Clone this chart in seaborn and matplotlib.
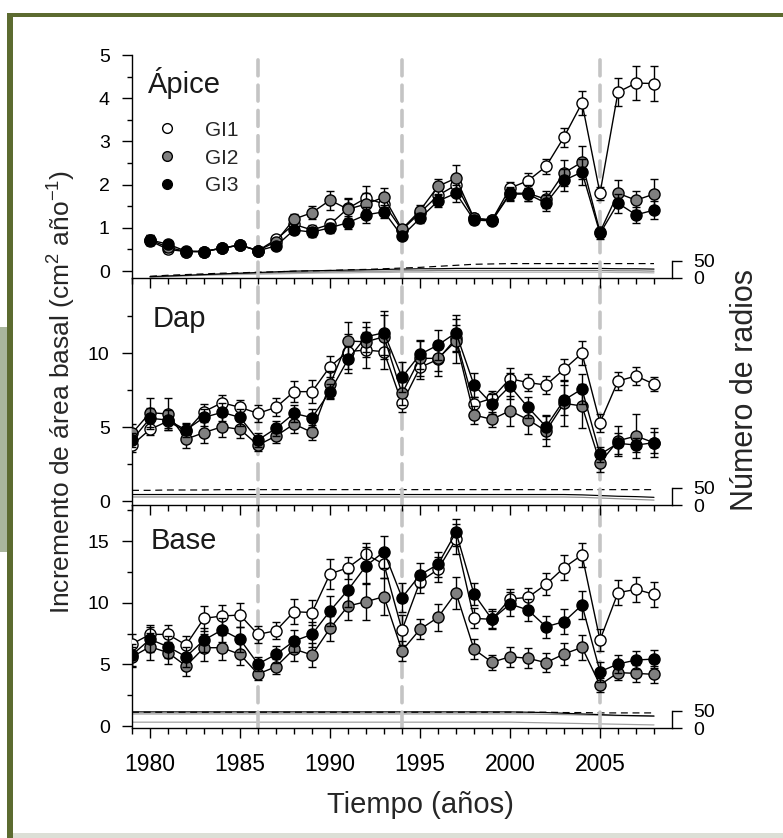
import numpy as np
import pandas as pd
import matplotlib
matplotlib.use('Agg')
import matplotlib.pyplot as plt
import seaborn as sns
from matplotlib.lines import Line2D
from matplotlib.patches import Rectangle
from matplotlib.ticker import FixedLocator

sns.set_theme(style='ticks')
plt.rcParams['font.family'] = ['Liberation Sans', 'DejaVu Sans']
plt.rcParams['mathtext.fontset'] = 'custom'
plt.rcParams['mathtext.rm'] = 'Liberation Sans'
plt.rcParams['mathtext.it'] = 'Liberation Sans:italic'
plt.rcParams['mathtext.default'] = 'regular'

# ---------------- data ----------------
groups = ['GI1', 'GI2', 'GI3']
years_apice = list(range(1980, 2009))
years_long = list(range(1979, 2009))

apice_gi1 = [0.70, 0.50, 0.45, 0.45, 0.53, 0.60, 0.47, 0.73, 1.08, 0.95, 1.08, 1.45, 1.69, 1.55, 0.95,
             1.35, 1.75, 1.99, 1.22, 1.18, 1.92, 2.09, 2.42, 3.10, 3.89, 1.80, 4.14, 4.35, 4.34]
apice_gi2 = [0.72, 0.55, 0.45, 0.45, 0.53, 0.60, 0.47, 0.68, 1.20, 1.35, 1.64, 1.43, 1.55, 1.71, 0.97,
             1.40, 1.96, 2.15, 1.22, 1.18, 1.80, 1.80, 1.66, 2.27, 2.52, 0.90, 1.80, 1.64, 1.78]
apice_gi3 = [0.72, 0.62, 0.46, 0.45, 0.53, 0.60, 0.47, 0.58, 0.95, 0.90, 1.00, 1.12, 1.30, 1.37, 0.81,
             1.22, 1.62, 1.80, 1.18, 1.16, 1.78, 1.78, 1.57, 2.10, 2.29, 0.87, 1.57, 1.30, 1.41]
apice_err1 = [0.10, 0.08, 0.05, 0.05, 0.05, 0.05, 0.05, 0.07, 0.10, 0.12, 0.12, 0.22, 0.28, 0.22, 0.10,
              0.12, 0.18, 0.20, 0.10, 0.08, 0.15, 0.18, 0.18, 0.22, 0.27, 0.15, 0.32, 0.40, 0.40]
apice_err2 = [0.12, 0.10, 0.06, 0.05, 0.06, 0.05, 0.05, 0.06, 0.12, 0.15, 0.22, 0.25, 0.25, 0.22, 0.10,
              0.12, 0.18, 0.30, 0.10, 0.08, 0.15, 0.18, 0.20, 0.30, 0.38, 0.10, 0.30, 0.22, 0.35]
apice_err3 = [0.12, 0.08, 0.06, 0.05, 0.06, 0.05, 0.05, 0.06, 0.10, 0.12, 0.12, 0.15, 0.18, 0.15, 0.08,
              0.12, 0.15, 0.20, 0.10, 0.08, 0.15, 0.15, 0.18, 0.25, 0.30, 0.12, 0.22, 0.18, 0.20]

dap_gi1 = [3.78, 4.84, 5.40, 4.70, 6.04, 6.64, 6.33, 5.92, 6.33, 7.39, 7.39, 9.08, 10.10, 10.20, 10.09,
           6.60, 9.03, 9.57, 10.99, 6.55, 6.94, 8.27, 8.00, 7.84, 8.90, 9.98, 5.29, 8.11, 8.45, 7.90]
dap_gi2 = [4.57, 5.97, 5.88, 4.18, 4.62, 5.02, 4.84, 3.78, 4.39, 5.20, 4.64, 7.88, 10.81, 10.76, 11.10,
           7.27, 9.64, 9.64, 10.81, 5.81, 5.52, 6.10, 5.50, 4.73, 6.60, 6.42, 2.59, 4.07, 4.39, 3.94]
dap_gi3 = [4.12, 5.59, 5.47, 4.80, 5.65, 5.99, 5.65, 4.12, 4.91, 5.92, 5.63, 7.39, 9.57, 11.10, 11.37,
           8.36, 9.91, 10.54, 11.37, 7.84, 6.55, 7.77, 6.33, 5.02, 6.82, 7.57, 3.15, 3.90, 3.78, 3.94]
dap_err1 = [0.5, 0.4, 0.5, 0.5, 0.5, 0.5, 0.5, 0.6, 0.6, 0.7, 0.8, 0.7, 1.2, 1.2, 1.2,
            0.6, 0.8, 0.8, 0.9, 0.5, 0.5, 0.7, 0.6, 0.6, 0.7, 0.8, 0.6, 0.6, 0.6, 0.5]
dap_err2 = [0.6, 1.0, 1.1, 0.6, 0.7, 0.7, 0.6, 0.4, 0.5, 0.6, 0.5, 0.9, 1.3, 1.0, 1.5,
            0.8, 1.2, 1.2, 1.5, 0.6, 0.5, 1.0, 1.0, 1.0, 1.5, 1.5, 0.6, 1.0, 1.5, 1.0]
dap_err3 = [0.5, 0.7, 0.7, 0.5, 0.6, 0.6, 0.6, 0.5, 0.5, 0.6, 0.6, 0.5, 0.9, 1.0, 1.5,
            1.0, 1.0, 1.0, 1.2, 0.8, 0.7, 0.9, 0.7, 0.8, 1.0, 1.0, 0.5, 0.7, 0.5, 0.7]

base_gi1 = [6.65, 7.43, 7.43, 6.57, 8.73, 8.92, 9.00, 7.43, 7.73, 9.27, 9.20, 12.33, 12.84, 13.92, 13.11,
            7.79, 11.70, 12.70, 15.14, 8.73, 8.65, 10.30, 10.43, 11.49, 12.84, 13.87, 6.97, 10.81, 11.08, 10.68]
base_gi2 = [5.60, 6.43, 5.95, 4.87, 6.35, 6.35, 5.81, 4.22, 4.81, 6.24, 5.76, 7.92, 9.73, 10.08, 10.49,
            6.11, 7.84, 8.81, 10.81, 6.22, 5.17, 5.62, 5.49, 5.14, 5.84, 6.38, 3.33, 4.33, 4.27, 4.19]
base_gi3 = [5.76, 7.03, 6.43, 5.62, 6.97, 7.79, 7.03, 5.03, 5.81, 6.89, 7.43, 9.33, 11.03, 12.98, 14.14,
            10.41, 12.25, 13.11, 15.71, 10.70, 8.65, 9.89, 9.41, 8.05, 8.46, 9.81, 4.41, 5.03, 5.35, 5.43]
base_err1 = [0.8, 0.8, 0.8, 0.7, 1.0, 0.9, 1.0, 0.7, 0.7, 1.0, 1.0, 1.2, 0.9, 0.9, 1.1,
             1.2, 0.9, 1.0, 1.2, 0.8, 0.8, 0.8, 0.8, 0.9, 1.0, 1.0, 0.9, 1.0, 1.0, 1.0]
base_err2 = [0.8, 1.1, 0.9, 0.8, 1.1, 1.0, 0.9, 0.5, 0.6, 1.0, 1.0, 1.0, 1.1, 1.5, 1.5,
             0.8, 0.8, 1.1, 1.3, 0.8, 0.6, 0.8, 0.8, 0.8, 0.9, 1.0, 0.6, 0.6, 0.7, 0.7]
base_err3 = [0.9, 1.0, 0.9, 0.8, 1.0, 1.0, 1.0, 0.6, 0.7, 0.9, 1.0, 1.2, 1.4, 1.5, 1.3,
             1.2, 1.0, 1.0, 1.1, 0.9, 0.7, 1.0, 0.9, 0.9, 1.0, 1.1, 0.8, 0.7, 0.7, 0.7]

# number of radii (secondary axis)
apice_r_dash = [5, 8, 10, 12, 14, 15, 17, 18, 20, 21, 22, 24, 25, 27, 29, 31, 34, 37, 40, 41,
                42, 42, 42, 42, 42, 42, 42, 42, 42]
apice_r_black = [4, 6, 8, 10, 12, 14, 16, 18, 20, 21, 22, 23, 24, 25, 26, 27, 27, 28, 28, 28,
                 28, 28, 28, 28, 28, 28, 27, 27, 26]
apice_r_grey = [3, 5, 7, 9, 11, 13, 14, 15, 16, 17, 18, 19, 20, 20, 21, 21, 22, 22, 22, 22,
                22, 22, 22, 22, 22, 22, 21, 21, 20]
apice_r_light = [2, 4, 6, 8, 9, 10, 11, 12, 13, 14, 15, 15, 16, 16, 17, 17, 17, 17, 17, 17,
                 17, 17, 17, 17, 17, 17, 16, 16, 15]

dap_r_dash = [42, 42, 43, 43, 43, 44, 44, 44, 44, 44, 44, 44, 44, 44, 44, 44, 44, 44, 44, 44,
              44, 44, 44, 44, 44, 44, 44, 44, 44, 44]
dap_r_black = [30, 30, 30, 30, 30, 30, 30, 30, 30, 30, 30, 30, 30, 30, 30, 30, 30, 30, 30, 30,
               30, 30, 30, 30, 30, 29, 27, 25, 24, 22]
dap_r_grey = [23, 23, 23, 23, 23, 23, 23, 23, 23, 23, 23, 23, 23, 23, 23, 23, 23, 23, 23, 23,
              23, 23, 23, 23, 23, 22, 20, 18, 16, 14]

base_r_dash = [46, 46, 46, 46, 46, 46, 46, 46, 46, 46, 46, 46, 46, 46, 46, 46, 46, 46, 46, 46,
               46, 46, 46, 46, 45, 45, 44, 44, 44, 44]
base_r_black = [47, 47, 47, 47, 47, 47, 47, 47, 47, 47, 47, 47, 47, 47, 47, 47, 47, 47, 47, 47,
                47, 47, 46, 45, 43, 41, 39, 37, 36, 35]
base_r_grey = [41, 41, 41, 41, 41, 41, 41, 41, 41, 41, 41, 41, 41, 41, 41, 41, 41, 41, 41, 41,
               41, 41, 41, 40, 39, 38, 37, 36, 35, 34]
base_r_light = [17, 17, 17, 17, 17, 17, 17, 17, 17, 17, 17, 17, 17, 17, 17, 17, 17, 17, 17, 17,
                17, 17, 16, 15, 14, 13, 12, 11, 10, 9]

event_years = [1986, 1994, 2005]
x_major = [1980, 1985, 1990, 1995, 2000, 2005]
x_minor = [y for y in range(1979, 2009) if y not in x_major]

panel_names = ['Ápice', 'Dap', 'Base']

# ---------------- figure ----------------
W, H = 783, 838
fig = plt.figure(figsize=(W / 100, H / 100), dpi=100)
fig.patch.set_facecolor('white')

def px2fig(x0, y0, w, h):
    return [x0 / W, 1 - (y0 + h) / H, w / W, h / H]

# frame decoration
green = '#5c6b30'
fig.patches.append(Rectangle((7 / W, 0), 6.3 / W, 1 - 12.7 / H, transform=fig.transFigure,
                             facecolor=green, edgecolor='none', zorder=0))
fig.patches.append(Rectangle((7 / W, 1 - 17.5 / H), 1, 4.8 / H, transform=fig.transFigure,
                             facecolor=green, edgecolor='none', zorder=0))
fig.patches.append(Rectangle((0, 1 - 552 / H), 7 / W, 225 / H, transform=fig.transFigure,
                             facecolor='#a9b69c', edgecolor='none', zorder=0))
fig.patches.append(Rectangle((13.3 / W, 0), 1, 5 / H, transform=fig.transFigure,
                             facecolor='#dcdfd6', edgecolor='none', zorder=0))

panels = [
    dict(top=55, bot=278, ylim=(-0.162, 5.0), major=[0, 1, 2, 3, 4, 5],
         minor=[0.5, 1.5, 2.5, 3.5, 4.5], years=years_apice,
         series=[apice_gi1, apice_gi2, apice_gi3], errs=[apice_err1, apice_err2, apice_err3],
         radii=[(apice_r_light, '#b0b0b0', '-'), (apice_r_grey, '#808080', '-'),
                (apice_r_black, 'black', '-'), (apice_r_dash, 'black', '--')],
         title_xy=(0.03, 0.83)),
    dict(top=278, bot=505, ylim=(-0.27, 15.07), major=[0, 5, 10], minor=[2.5, 7.5, 12.5],
         years=years_long, series=[dap_gi1, dap_gi2, dap_gi3], errs=[dap_err1, dap_err2, dap_err3],
         radii=[(dap_r_grey, '#909090', '-'), (dap_r_black, 'black', '-'),
                (dap_r_dash, 'black', '--')],
         title_xy=(0.039, 0.784)),
    dict(top=505, bot=728, ylim=(-0.16, 17.92), major=[0, 5, 10, 15],
         minor=[2.5, 7.5, 12.5, 17.5], years=years_long,
         series=[base_gi1, base_gi2, base_gi3], errs=[base_err1, base_err2, base_err3],
         radii=[(base_r_light, '#a0a0a0', '-'), (base_r_grey, '#909090', '-'),
                (base_r_dash, 'black', '--'), (base_r_black, 'black', '-')],
         title_xy=(0.035, 0.803)),
]

face = {'GI1': 'white', 'GI2': '#808080', 'GI3': 'black'}
PT = 0.72  # points per pixel

for i, p in enumerate(panels):
    ax = fig.add_axes(px2fig(132, p['top'], 540, p['bot'] - p['top']))
    ax2 = ax.twinx()
    ax.set_zorder(2)
    ax2.set_zorder(1)
    ax.patch.set_visible(False)
    ax2.patch.set_visible(False)

    # secondary axis: number of radii + event lines
    for vals, col, ls in p['radii']:
        dfr = pd.DataFrame({'year': p['years'], 'n': vals})
        kw = dict(linestyle=(0, (5.8, 3.9))) if ls == '--' else dict(linestyle='-')
        sns.lineplot(data=dfr, x='year', y='n', ax=ax2, color=col, linewidth=1.0 * PT * 1.2,
                     legend=False, errorbar=None, **kw)
    for ev in event_years:
        ax2.axvline(ev, color='#c4c4c4', linewidth=2.6, linestyle=(0, (4.4, 2.6)),
                    dash_capstyle='round', zorder=3)
    ax2.set_ylim(0, 650)
    ax2.set_xlim(1979, 2009)
    for s in ['top', 'left', 'bottom']:
        ax2.spines[s].set_visible(False)
    ax2.spines['right'].set_bounds(0, 50)
    ax2.spines['right'].set_linewidth(1.0)
    ax2.spines['right'].set_color('black')
    ax2.set_yticks([0, 50])
    ax2.set_yticklabels(['0', '50'])
    ax2.tick_params(axis='y', direction='out', length=10 * PT, width=1.0, pad=8,
                    labelsize=14, colors='black')
    ax2.set_ylabel('')
    ax2.set_xlabel('')

    # primary data
    for k, g in enumerate(groups):
        df = pd.DataFrame({'year': p['years'], 'value': p['series'][k], 'err': p['errs'][k]})
        ax.errorbar(df['year'], df['value'], yerr=df['err'], fmt='none', ecolor='black',
                    elinewidth=1.0, capsize=2.6, capthick=1.0, zorder=3 + k)
        sns.lineplot(data=df, x='year', y='value', ax=ax, color='black', linewidth=1.0,
                     marker='o', markersize=8, markerfacecolor=face[g],
                     markeredgecolor='black', markeredgewidth=1.0, legend=False,
                     errorbar=None, zorder=3.5 + k)

    ax.set_xlim(1979, 2009)
    ax.set_ylim(*p['ylim'])
    ax.spines['top'].set_visible(False)
    ax.spines['right'].set_visible(False)
    for s in ['left', 'bottom']:
        ax.spines[s].set_linewidth(1.0)
        ax.spines[s].set_color('black')
    ax.set_xticks(x_major)
    ax.xaxis.set_minor_locator(FixedLocator(x_minor))
    ax.set_yticks(p['major'])
    ax.set_yticklabels([str(v) for v in p['major']])
    ax.yaxis.set_minor_locator(FixedLocator(p['minor']))
    ax.tick_params(axis='both', which='major', direction='out', width=1.0, colors='black')
    ax.tick_params(axis='x', which='major', length=10 * PT, pad=11, labelsize=16.5)
    ax.tick_params(axis='y', which='major', length=10.5 * PT, pad=8.5, labelsize=14)
    ax.tick_params(axis='both', which='minor', direction='out', width=1.0, length=5.5 * PT,
                   colors='black')
    ax.tick_params(axis='x', labelbottom=(i == 2))
    ax.set_xlabel('')
    ax.set_ylabel('')

    ax.text(p['title_xy'][0], p['title_xy'][1], panel_names[i], transform=ax.transAxes,
            fontsize=21, ha='left', va='baseline', color='#1a1a1a')

    if i == 0:
        handles = [Line2D([], [], linestyle='none', marker='o', markersize=7,
                          markerfacecolor=face[g], markeredgecolor='black',
                          markeredgewidth=1.0) for g in groups]
        ax.legend(handles, groups, loc='upper left', bbox_to_anchor=(0.046, 0.705),
                  frameon=False, fontsize=15, handlelength=1.0, handletextpad=1.3,
                  labelspacing=0.42, borderpad=0, borderaxespad=0)

fig.text(420 / W, 1 - 813 / H, 'Tiempo (años)', fontsize=21, ha='center', va='baseline')
fig.text(62 / W, 1 - 392 / H, r'Incremento de área basal (cm$^{2}$ año$^{-1}$)',
         fontsize=19, rotation=90, ha='center', va='center')
fig.text(745 / W, 1 - 390 / H, 'Número de radios', fontsize=22, rotation=90,
         ha='center', va='center')

fig.savefig('out.png', dpi=100, facecolor='white')
